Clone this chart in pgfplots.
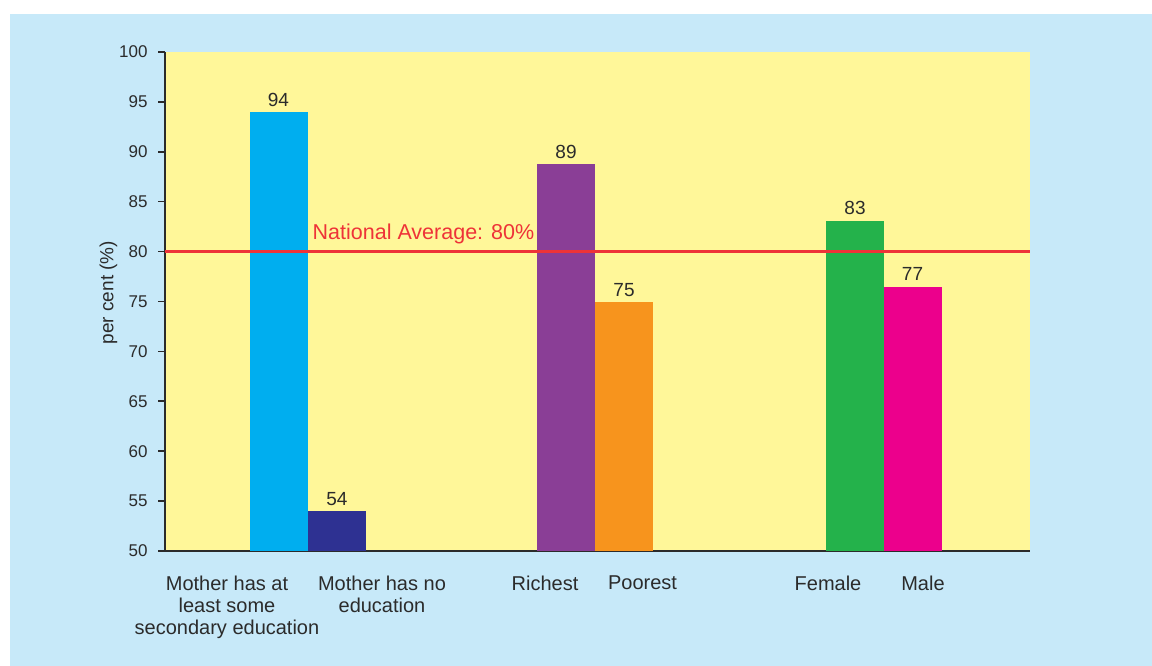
\documentclass[border=0pt]{standalone}
\usepackage{fontspec}
\setmainfont{Liberation Sans}
\usepackage{pgfplots}
\pgfplotsset{compat=1.18}

\definecolor{bgblue}{HTML}{C7E9F9}
\definecolor{plotyellow}{HTML}{FFF799}
\definecolor{txtgrey}{HTML}{2B2B2B}
\definecolor{avgred}{HTML}{EE3338}
\definecolor{c1}{HTML}{00AEEF}
\definecolor{c2}{HTML}{2E3192}
\definecolor{c3}{HTML}{8A3E96}
\definecolor{c4}{HTML}{F7941D}
\definecolor{c5}{HTML}{24B24B}
\definecolor{c6}{HTML}{EC008C}

\pgfplotsset{
  onebar/.style={ybar, bar width=58, bar shift=0pt, draw=none, fill=#1,
    nodes near coords, point meta=explicit symbolic,
    every node near coord/.append style={font=\fontsize{19}{21}\selectfont, text=txtgrey, anchor=south, yshift=2pt}},
}

\begin{document}
\begin{tikzpicture}[x=1pt,y=1pt]
\path[use as bounding box] (0,0) rectangle (1152,666);
\fill[white] (0,0) rectangle (1152,666);
\fill[bgblue] (10,0) rectangle (1152,652);
\begin{axis}[
  at={(165pt,115pt)}, anchor=south west,
  scale only axis,
  width=865pt, height=499pt,
  xmin=0, xmax=865,
  ymin=50, ymax=100,
  axis x line=bottom, axis y line=left,
  axis line style={-, txtgrey, line width=1.6pt},
  axis background/.style={fill=plotyellow},
  ytick={50,55,...,100},
  ytick style={txtgrey, line width=1.6pt},
  major tick length=7pt,
  tick align=outside,
  yticklabel style={font=\fontsize{17}{19}\selectfont, text=txtgrey, xshift=-7pt},
  /pgf/number format/assume math mode=true,
  xtick={62,217,380,477.5,663,758},
  xticklabels={{Mother has at\\least some\\secondary education},{Mother has no\\education},Richest,Poorest,Female,Male},
  xtick style={draw=none},
  xticklabel style={font=\fontsize{20}{22}\selectfont, text=txtgrey, align=center, yshift=-14pt},
  ylabel={per cent (\%)},
  ylabel style={font=\fontsize{19}{21}\selectfont, text=txtgrey, yshift=-5pt, xshift=9pt},
]
\addplot[onebar=c1] coordinates {(113.5,94) [94]};
\addplot[onebar=c2] coordinates {(172,54) [54]};
\addplot[onebar=c3] coordinates {(401,88.8) [89]};
\addplot[onebar=c4] coordinates {(459,74.9) [75]};
\addplot[onebar=c5] coordinates {(690,83.1) [83]};
\addplot[onebar=c6] coordinates {(747.5,76.5) [77]};
\addplot[color=avgred, solid, line width=2.2pt, mark=none, point meta=none, forget plot] coordinates {(0,80) (865,80)};
\node[anchor=base west, text=avgred, font=\fontsize{21.5}{24}\selectfont, inner sep=0pt] at (axis cs:147.5,81.2) {National Average: 80\%};
\end{axis}
\end{tikzpicture}
\end{document}
